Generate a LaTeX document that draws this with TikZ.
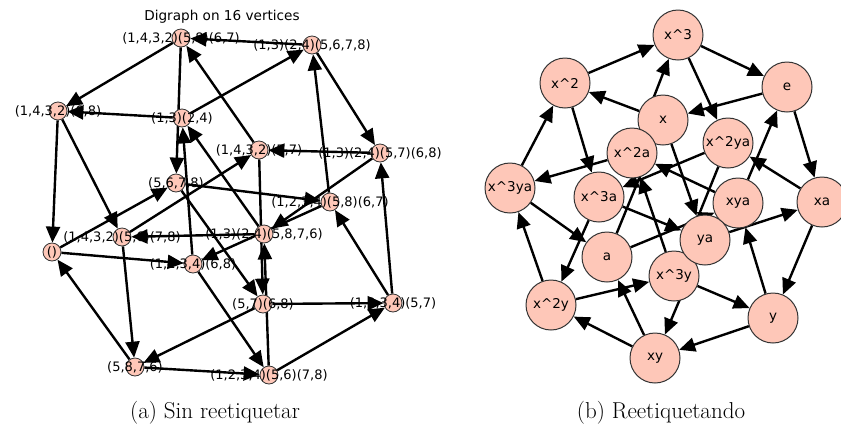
\documentclass[tikz,border=0pt]{standalone}
\usepackage{fontspec}
\usepackage{xcolor}
\usetikzlibrary{arrows.meta}
\newfontfamily\vera{DejaVu Sans}
\newcommand{\crt}{\textasciicircum}
\definecolor{vcol}{HTML}{FEC7B8}
\pgfdeclarelayer{edges}
\pgfsetlayers{edges,main}

\begin{document}
\begin{tikzpicture}[x=1pt,y=-1pt]
        \tikzstyle{every node}+=[inner sep=0pt]
        \tikzstyle{sv}=[circle,draw=black!80,line width=0.8pt,fill=vcol,minimum size=18pt]
        \tikzstyle{rv}=[circle,draw=black!80,line width=1pt,fill=vcol,minimum size=50pt,font=\vera\fontsize{13.5}{16}\selectfont]
        \tikzstyle{lab}=[font=\vera\fontsize{13}{15}\selectfont]
        \tikzstyle{arc}=[line width=2.4pt,-{Triangle[length=16pt,width=14pt]}]
        \tikzstyle{subcap}=[font=\fontsize{23}{27}\selectfont]
        \useasboundingbox (0,0) rectangle (841,432);
        % (a) sin reetiquetar
        \node[lab,font=\vera\fontsize{13.6}{16}\selectfont] (ttl) at (222,17) {Digraph on 16 vertices};
        \node[sv] (Le) at (52,252) {};
        \node[sv] (Lx) at (176,183) {};
        \node[sv] (Lx2) at (263,304) {};
        \node[sv] (Lx3) at (135,367) {};
        \node[sv] (Lxa) at (193,264) {};
        \node[sv] (Ly) at (182,118) {};
        \node[sv] (Lxya) at (58,111) {};
        \node[sv] (Lx2ya) at (269,375) {};
        \node[sv] (Lx3a) at (393,303) {};
        \node[sv] (Lxy) at (312,45) {};
        \node[sv] (Lx2a) at (122,237) {};
        \node[sv] (Lx3ya) at (259,150) {};
        \node[sv] (La) at (181,38) {};
        \node[sv] (Lx2y) at (380,153) {};
        \node[sv] (Lx3y) at (264,234) {};
        \node[sv] (Lya) at (330,202) {};
        \node[lab] (tLe) at (Le) {()};
        \node[lab] (tLx) at (Lx) {(5,6,7,8)};
        \node[lab] (tLx2) at (Lx2) {(5,7)(6,8)};
        \node[lab] (tLx3) at (Lx3) {(5,8,7,6)};
        \node[lab] (tLxa) at (Lxa) {(1,2,3,4)(6,8)};
        \node[lab] (tLy) at (Ly) {(1,3)(2,4)};
        \node[lab] (tLxya) at (Lxya) {(1,4,3,2)(6,8)};
        \node[lab] (tLx2ya) at (Lx2ya) {(1,2,3,4)(5,6)(7,8)};
        \node[lab] (tLx3a) at (Lx3a) {(1,2,3,4)(5,7)};
        \node[lab] (tLxy) at (Lxy) {(1,3)(2,4)(5,6,7,8)};
        \node[lab] (tLx2a) at (Lx2a) {(1,4,3,2)(5,6)(7,8)};
        \node[lab] (tLx3ya) at (Lx3ya) {(1,4,3,2)(5,7)};
        \node[lab] (tLa) at (La) {(1,4,3,2)(5,8)(6,7)};
        \node[lab] (tLx2y) at (Lx2y) {(1,3)(2,4)(5,7)(6,8)};
        \node[lab] (tLx3y) at (Lx3y) {(1,3)(2,4)(5,8,7,6)};
        \node[lab] (tLya) at (Lya) {(1,2,3,4)(5,8)(6,7)};
        \begin{pgfonlayer}{edges}
        \draw[arc] (Le) -- (Lx);      \draw[arc] (Le) -- (Lxa);
        \draw[arc] (Lx) -- (Lx2);     \draw[arc] (Lx) -- (Lya);
        \draw[arc] (Lx2) -- (Lx3);    \draw[arc] (Lx2) -- (Lx3a);
        \draw[arc] (Lx3) -- (Le);     \draw[arc] (Lx3) -- (Lx2ya);
        \draw[arc] (Ly) -- (Lxy);     \draw[arc] (Ly) -- (Lxya);
        \draw[arc] (Lxy) -- (Lx2y);   \draw[arc] (Lxy) -- (La);
        \draw[arc] (Lx2y) -- (Lx3y);  \draw[arc] (Lx2y) -- (Lx3ya);
        \draw[arc] (Lx3y) -- (Ly);    \draw[arc] (Lx3y) -- (Lx2a);
        \draw[arc] (Lxa) -- (Lx2ya);  \draw[arc] (Lxa) -- (Ly);
        \draw[arc] (Lx2ya) -- (Lx3a); \draw[arc] (Lx2ya) -- (Lx3y);
        \draw[arc] (Lx3a) -- (Lya);   \draw[arc] (Lx3a) -- (Lx2y);
        \draw[arc] (Lya) -- (Lxa);    \draw[arc] (Lya) -- (Lxy);
        \draw[arc] (Lxya) -- (Lx2a);  \draw[arc] (Lxya) -- (Le);
        \draw[arc] (Lx2a) -- (Lx3ya); \draw[arc] (Lx2a) -- (Lx3);
        \draw[arc] (Lx3ya) -- (La);   \draw[arc] (Lx3ya) -- (Lx2);
        \draw[arc] (La) -- (Lxya);    \draw[arc] (La) -- (Lx);
        \end{pgfonlayer}
        \node[subcap] (capa) at (215,413) {(a) Sin reetiquetar};
        % (b) reetiquetando
        \node[rv] (Re) at (787,87) {e};
        \node[rv] (Rx) at (663,120) {x};
        \node[rv] (Rx2) at (565,83) {x\crt 2};
        \node[rv] (Rx3) at (678,35) {x\crt 3};
        \node[rv] (Rxa) at (822,202) {xa};
        \node[rv] (Ry) at (773,318) {y};
        \node[rv] (Rxya) at (738,203) {xya};
        \node[rv] (Rx2ya) at (728,143) {x\crt 2ya};
        \node[rv] (Rx3a) at (599,197) {x\crt 3a};
        \node[rv] (Rxy) at (655,358) {xy};
        \node[rv] (Rx2a) at (632,153) {x\crt 2a};
        \node[rv] (Rx3ya) at (510,188) {x\crt 3ya};
        \node[rv] (Ra) at (607,257) {a};
        \node[rv] (Rx2y) at (551,305) {x\crt 2y};
        \node[rv] (Rx3y) at (674,276) {x\crt 3y};
        \node[rv] (Rya) at (705,240) {ya};
        \begin{pgfonlayer}{edges}
        \draw[arc] (Re) -- (Rx);      \draw[arc] (Re) -- (Rxa);
        \draw[arc] (Rx) -- (Rx2);     \draw[arc] (Rx) -- (Rya);
        \draw[arc] (Rx2) -- (Rx3);    \draw[arc] (Rx2) -- (Rx3a);
        \draw[arc] (Rx3) -- (Re);     \draw[arc] (Rx3) -- (Rx2ya);
        \draw[arc] (Ry) -- (Rxy);     \draw[arc] (Ry) -- (Rxya);
        \draw[arc] (Rxy) -- (Rx2y);   \draw[arc] (Rxy) -- (Ra);
        \draw[arc] (Rx2y) -- (Rx3y);  \draw[arc] (Rx2y) -- (Rx3ya);
        \draw[arc] (Rx3y) -- (Ry);    \draw[arc] (Rx3y) -- (Rx2a);
        \draw[arc] (Rxa) -- (Rx2ya);  \draw[arc] (Rxa) -- (Ry);
        \draw[arc] (Rx2ya) -- (Rx3a); \draw[arc] (Rx2ya) -- (Rx3y);
        \draw[arc] (Rx3a) -- (Rya);   \draw[arc] (Rx3a) -- (Rx2y);
        \draw[arc] (Rya) -- (Rxa);    \draw[arc] (Rya) -- (Rxy);
        \draw[arc] (Rxya) -- (Rx2a);  \draw[arc] (Rxya) -- (Re);
        \draw[arc] (Rx2a) -- (Rx3ya); \draw[arc] (Rx2a) -- (Rx3);
        \draw[arc] (Rx3ya) -- (Ra);   \draw[arc] (Rx3ya) -- (Rx2);
        \draw[arc] (Ra) -- (Rxya);    \draw[arc] (Ra) -- (Rx);
        \end{pgfonlayer}
        \node[subcap] (capb) at (661,413) {(b) Reetiquetando};
\end{tikzpicture}
\end{document}
